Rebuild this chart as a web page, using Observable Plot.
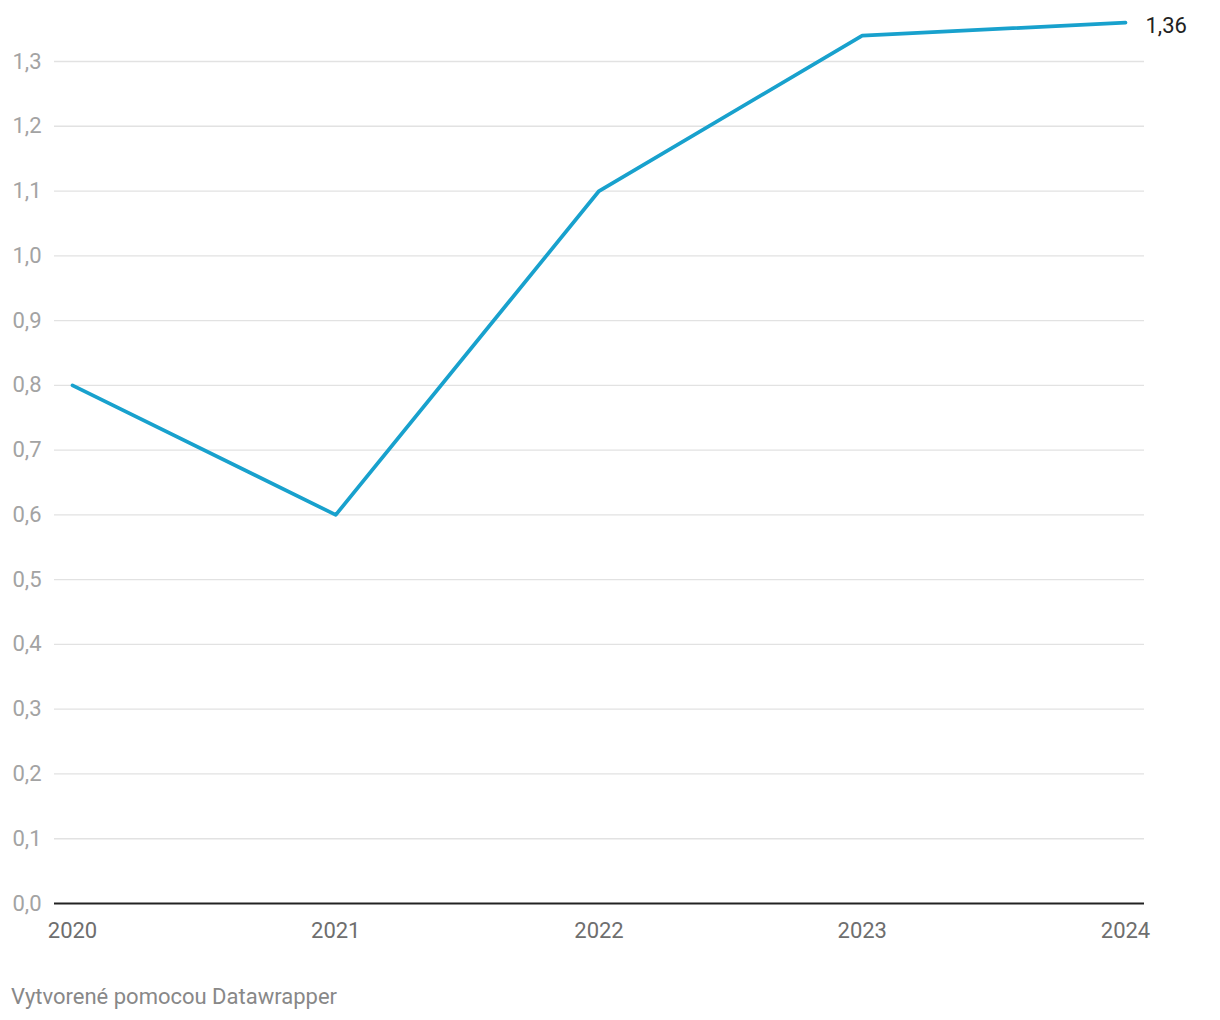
<!DOCTYPE html>
<html>
<head>
<meta charset="utf-8">
<script src="https://cdn.jsdelivr.net/npm/d3@7"></script>
<script src="https://cdn.jsdelivr.net/npm/@observablehq/plot@0.6"></script>
<style>
  html, body { margin: 0; padding: 0; background: #fff; }
  #chart svg { display: block; }
  #caption { font-family: Roboto, sans-serif; font-size: 22px; color: #888; margin: 24px 0 0 11px; line-height: 26px; }
</style>
</head>
<body>
<div id="chart"></div>
<div id="caption">Vytvorené pomocou Datawrapper</div>
<script>
const years = [2020, 2021, 2022, 2023, 2024];
const values = [0.8, 0.6, 1.1, 1.34, 1.36];
const yTicks = [0, 0.1, 0.2, 0.3, 0.4, 0.5, 0.6, 0.7, 0.8, 0.9, 1.0, 1.1, 1.2, 1.3];
const lineColor = "#18a1cd";

const data = years.map((y, i) => ({year: y, value: values[i]}));
const last = data[data.length - 1];
const fmt1 = d => d.toFixed(1).replace(".", ",");
const fmt2 = d => d.toFixed(2).replace(".", ",");

const chart = Plot.plot({
  width: 1220,
  height: 960,
  marginTop: 61,
  marginBottom: 57,
  marginLeft: 54,
  marginRight: 76,
  style: {fontFamily: "Roboto, sans-serif", fontSize: "22px", background: "#fff"},
  x: {domain: [2020, 2024], insetLeft: 18, insetRight: 19},
  y: {domain: [0, 1.3]},
  marks: [
    Plot.ruleY(yTicks.filter(d => d > 0), {stroke: "#e2e2e2", strokeWidth: 1.3}),
    Plot.axisY(yTicks, {tickSize: 0, tickPadding: 13, tickFormat: fmt1, color: "#a3a3a3", fontSize: 22, label: null}),
    Plot.axisX(years, {tickSize: 0, tickPadding: 19, tickFormat: d => String(d), color: "#6e6e6e", fontSize: 22, label: null}),
    Plot.ruleY([0], {stroke: "#222", strokeWidth: 2}),
    Plot.line(data, {x: "year", y: "value", stroke: lineColor, strokeWidth: 3.7, strokeLinejoin: "round", strokeLinecap: "round"}),
    Plot.text([last], {x: "year", y: "value", text: d => fmt2(d.value), dx: 20, dy: 3, textAnchor: "start", fill: "#222", fontSize: 22})
  ]
});
document.getElementById("chart").appendChild(chart);
</script>
</body>
</html>
